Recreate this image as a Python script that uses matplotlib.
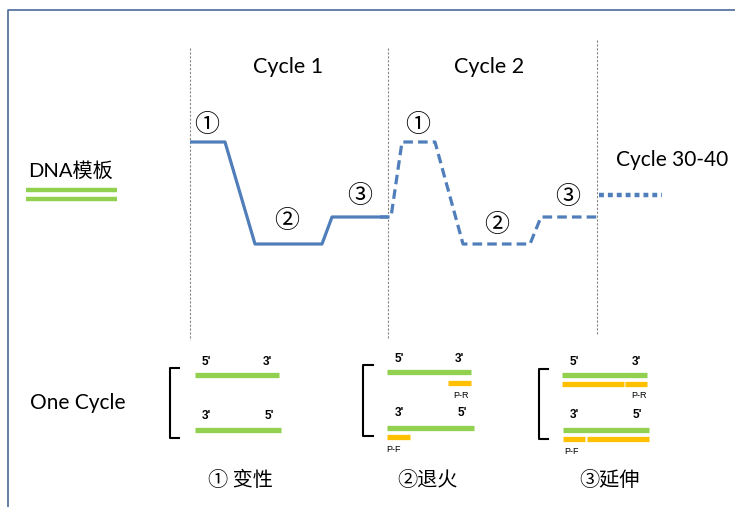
import matplotlib.pyplot as plt

plt.rcParams['font.family'] = ['Lato', 'Noto Sans CJK SC', 'DejaVu Sans']

# temperature profile, drawn in picture pixels (x right, y down)
cycle1_x = [190, 225, 255, 322, 332, 388]
cycle1_y = [142, 142, 244, 244, 217, 217]
cycle2_x = [380, 391, 402, 435, 463, 530, 541, 597]
cycle2_y = [217, 217, 142, 142, 244, 244, 217, 217]
cycle_n_x = [599, 662]
cycle_n_y = [195, 195]

divider_x = [190, 388, 597]
divider_top = [48, 48, 40]
divider_bottom = [340, 338, 334]

cycle_labels = ['Cycle 1', 'Cycle 2', 'Cycle 30-40']
step_marks = ['①', '②', '③']
step_names = ['① 变性', '②退火', '③延伸']

blue = '#4F7EBA'
green = '#92D050'
orange = '#FFC000'

fig = plt.figure(figsize=(7.35, 5.07), dpi=100)
ax = fig.add_axes([0, 0, 1, 1])
ax.set_xlim(0, 735)
ax.set_ylim(507, 0)
ax.axis('off')

# frame
ax.plot([8, 8, 735], [507, 10, 10], color='#4A6A9A', lw=1.2)

# dividers
for x, t, b in zip(divider_x, divider_top, divider_bottom):
    ax.plot([x, x], [t, b], color='#888888', lw=0.8, ls=(0, (2, 1.5)))

# profile
ax.plot(cycle1_x, cycle1_y, color=blue, lw=2.3, solid_capstyle='butt')
ax.plot(cycle2_x, cycle2_y, color=blue, lw=2.3, ls=(0, (3, 1.6)))
ax.plot(cycle_n_x, cycle_n_y, color=blue, lw=3.2, ls=(0, (1.1, 0.9)))

ax.text(288, 67, cycle_labels[0], fontsize=15.5, ha='center', va='center')
ax.text(489, 67, cycle_labels[1], fontsize=15.5, ha='center', va='center')
ax.text(672, 160, cycle_labels[2], fontsize=15, ha='center', va='center')

mark_pos = [(207, 125), (287, 221), (360, 196), (418, 125), (497, 225), (568, 197)]
for i, (x, y) in enumerate(mark_pos):
    ax.text(x, y, step_marks[i % 3], fontsize=18, ha='center', va='center',
            family=['Noto Sans CJK SC'], fontweight='light')

# template
ax.text(28, 171, 'DNA模板', fontsize=14.5, ha='left', va='center')
ax.plot([26, 117], [190, 190], color=green, lw=3.2, solid_capstyle='butt')
ax.plot([26, 117], [199, 199], color=green, lw=3.2, solid_capstyle='butt')

ax.text(30, 403, 'One Cycle', fontsize=15, ha='left', va='center')


def bracket(x, top, bottom, tick):
    ax.plot([x + tick, x, x, x + tick], [top, top, bottom, bottom], color='black', lw=1.5)


def strand(x0, x1, y, c):
    ax.plot([x0, x1], [y, y], color=c, lw=3.8, solid_capstyle='butt')


def end(x, y, s):
    ax.text(x, y, s, fontsize=8.5, fontweight='bold', ha='center', va='center',
            family=['Liberation Sans'])


def primer(x, y, s):
    ax.text(x, y, s, fontsize=6.5, ha='center', va='center', family=['Liberation Sans'])


# step 1: denature
bracket(170, 368, 438, 9)
strand(195, 279, 375, green)
strand(195, 281, 430, green)
end(206, 362, "5'"); end(267, 362, "3'")
end(206, 416, "3'"); end(269, 416, "5'")

# step 2: anneal
bracket(363, 365, 436, 10)
strand(387, 471, 372, green)
strand(448, 471, 383, orange)
strand(387, 474, 428, green)
strand(387, 410, 437, orange)
end(399, 359, "5'"); end(459, 359, "3'")
end(399, 413, "3'"); end(462, 413, "5'")
primer(461, 396, 'P-R'); primer(394, 450, 'P-F')

# step 3: extend
bracket(539, 369, 439, 9)
strand(562, 647, 375, green)
strand(562, 624, 384, orange); strand(625, 647, 384, orange)
strand(563, 649, 430, green)
strand(563, 585, 439, orange); strand(587, 649, 439, orange)
end(574, 362, "5'"); end(636, 362, "3'")
end(574, 415, "3'"); end(637, 415, "5'")
primer(639, 395, 'P-R'); primer(572, 452, 'P-F')

for x, s in zip([240, 427, 609], step_names):
    ax.text(x, 481, s, fontsize=14.5, ha='center', va='center',
            family=['Noto Sans CJK SC'], fontweight='light')

fig.savefig('out.png', dpi=100)
